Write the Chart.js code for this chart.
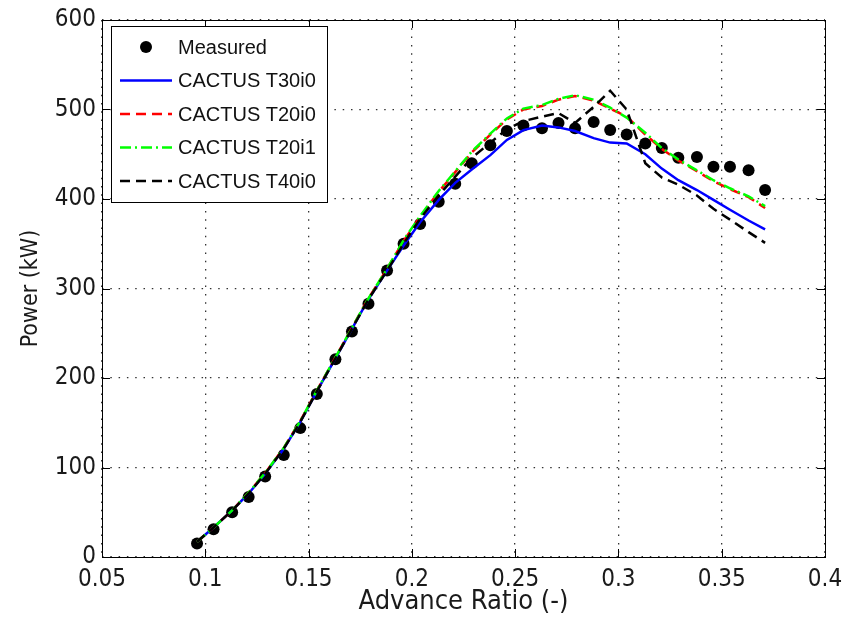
<!DOCTYPE html>
<html>
<head>
<meta charset="utf-8">
<script src="https://cdn.jsdelivr.net/npm/chart.js@4.4.1/dist/chart.umd.min.js"></script>
<style>
  html, body { margin: 0; padding: 0; background: #fff; }
  #wrap { width: 854px; height: 629px; }
</style>
</head>
<body>
<div id="wrap"><canvas id="graph" width="854" height="629"></canvas></div>
<script>
// advance ratio of each measured point / each simulated point
const advanceRatio = [0.096, 0.104, 0.113, 0.121, 0.129, 0.138, 0.146, 0.154, 0.163, 0.171, 0.179, 0.188,
  0.196, 0.204, 0.213, 0.221, 0.229, 0.238, 0.246, 0.254, 0.263, 0.271, 0.279, 0.288,
  0.296, 0.304, 0.313, 0.321, 0.329, 0.338, 0.346, 0.354, 0.363, 0.371];

const measuredPower = [15, 31, 50, 67, 90, 114, 144, 182, 221, 252, 283, 320,
  350, 372, 397, 417, 440, 460, 476, 482, 479, 485, 479, 486,
  477, 472, 462, 457, 446, 447, 436, 436, 432, 410];

const cactusT30i0 = [17, 33, 52, 71, 93, 121, 151, 185, 222, 255, 288, 320,
  348, 374, 399, 418, 433, 449, 466, 477, 482, 480, 476, 468,
  463, 462, 450, 434, 421, 410, 399, 388, 376, 366];

const cactusT20i0 = [17, 33, 52, 72, 94, 122, 152, 186, 223, 256, 289, 322,
  353, 380, 408, 430, 452, 472, 489, 500, 504, 511, 515, 510,
  501, 492, 472, 456, 443, 431, 420, 411, 402, 390];

const cactusT20i1 = [17, 33, 52, 72, 94, 122, 152, 186, 223, 256, 289, 322,
  354, 381, 409, 431, 453, 473, 490, 501, 505, 512, 516, 511,
  502, 491, 474, 457, 444, 432, 421, 412, 403, 392];

const cactusT40i0 = [17, 33, 52, 71, 93, 121, 151, 185, 222, 255, 288, 320,
  350, 378, 404, 425, 446, 463, 478, 487, 492, 496, 485, 503,
  521, 500, 440, 424, 416, 404, 389, 377, 363, 351];

const xTicks = [0.05, 0.1, 0.15, 0.2, 0.25, 0.3, 0.35, 0.4];
const xTickLabels = ['0.05', '0.1', '0.15', '0.2', '0.25', '0.3', '0.35', '0.4'];
const yTicks = [0, 100, 200, 300, 400, 500, 600];

const toPoints = ys => ys.map((v, i) => ({ x: advanceRatio[i], y: v }));

const narrow = "'Liberation Sans Narrow', 'DejaVu Sans Condensed', 'Liberation Sans', Arial, sans-serif";
const tickFont = { family: narrow, size: 24 };

// box round the plot, with MATLAB style inward ticks
const framePlugin = {
  id: 'frame',
  afterDatasetsDraw(chart) {
    const { ctx, chartArea: a, scales: { x, y } } = chart;
    ctx.save();
    ctx.strokeStyle = '#000';
    ctx.lineWidth = 1;
    ctx.setLineDash([]);
    ctx.beginPath();
    x.ticks.forEach(t => {
      const px = Math.round(x.getPixelForValue(t.value)) + 0.5;
      ctx.moveTo(px, a.bottom); ctx.lineTo(px, a.bottom - 8);
      ctx.moveTo(px, a.top); ctx.lineTo(px, a.top + 8);
    });
    y.ticks.forEach(t => {
      const py = Math.round(y.getPixelForValue(t.value)) + 0.5;
      ctx.moveTo(a.left, py); ctx.lineTo(a.left + 8, py);
      ctx.moveTo(a.right, py); ctx.lineTo(a.right - 8, py);
    });
    ctx.stroke();
    ctx.strokeRect(Math.round(a.left) + 0.5, Math.round(a.top) + 0.5,
      Math.round(a.right - a.left), Math.round(a.bottom - a.top));
    ctx.restore();
  }
};

// legend box inside the axes, top left
const legendPlugin = {
  id: 'boxLegend',
  afterDraw(chart) {
    const { ctx, chartArea: a } = chart;
    const bx = a.left + 9, by = a.top + 6, bw = 216, bh = 176;
    ctx.save();
    ctx.fillStyle = '#fff';
    ctx.fillRect(bx, by, bw, bh);
    ctx.strokeStyle = '#000';
    ctx.lineWidth = 1;
    ctx.strokeRect(bx + 0.5, by + 0.5, bw, bh);
    ctx.font = "20px 'Liberation Sans', Arial, sans-serif";
    ctx.textBaseline = 'middle';
    chart.data.datasets.forEach((ds, i) => {
      const cy = by + 21 + i * 33.5;
      if (ds.showLine === false) {
        ctx.fillStyle = ds.backgroundColor;
        ctx.beginPath();
        ctx.arc(bx + 35, cy, 6, 0, Math.PI * 2);
        ctx.fill();
      } else {
        ctx.strokeStyle = ds.borderColor;
        ctx.lineWidth = ds.borderWidth;
        ctx.setLineDash(ds.borderDash || []);
        ctx.beginPath();
        ctx.moveTo(bx + 9, cy);
        ctx.lineTo(bx + 61, cy);
        ctx.stroke();
        ctx.setLineDash([]);
      }
      ctx.fillStyle = '#111';
      ctx.fillText(ds.label, bx + 67, cy + 1);
    });
    ctx.restore();
  }
};

const graph = document.getElementById('graph').getContext('2d');
new Chart(graph, {
  type: 'scatter',
  data: {
    datasets: [
      {
        label: 'Measured',
        data: toPoints(measuredPower),
        showLine: false,
        pointRadius: 6,
        pointBackgroundColor: '#000',
        backgroundColor: '#000',
        pointBorderWidth: 0,
        order: 5
      },
      {
        label: 'CACTUS T30i0',
        data: toPoints(cactusT30i0),
        showLine: true,
        borderColor: '#0000ff',
        borderWidth: 2.5,
        pointRadius: 0,
        order: 4
      },
      {
        label: 'CACTUS T20i0',
        data: toPoints(cactusT20i0),
        showLine: true,
        borderColor: '#ff0000',
        borderWidth: 2.5,
        borderDash: [10, 6],
        pointRadius: 0,
        order: 3
      },
      {
        label: 'CACTUS T20i1',
        data: toPoints(cactusT20i1),
        showLine: true,
        borderColor: '#00ff00',
        borderWidth: 2.5,
        borderDash: [11, 4, 2, 4],
        pointRadius: 0,
        order: 2
      },
      {
        label: 'CACTUS T40i0',
        data: toPoints(cactusT40i0),
        showLine: true,
        borderColor: '#000000',
        borderWidth: 2.5,
        borderDash: [10, 6],
        pointRadius: 0,
        order: 1
      }
    ]
  },
  options: {
    responsive: false,
    devicePixelRatio: 1,
    animation: false,
    layout: { padding: { left: 0, top: 20, right: 29, bottom: 0 } },
    plugins: { legend: { display: false }, tooltip: { enabled: false } },
    scales: {
      x: {
        type: 'linear',
        min: 0.05,
        max: 0.4,
        afterBuildTicks: s => { s.ticks = xTicks.map(v => ({ value: v })); },
        afterFit: s => { s.height = 72; s.paddingLeft = 0; s.paddingRight = 0; },
        ticks: {
          color: '#1a1a1a',
          font: tickFont,
          padding: 8,
          maxRotation: 0,
          callback: (v, i) => xTickLabels[i]
        },
        grid: { color: '#333', lineWidth: 1.3, drawTicks: false },
        border: { display: false, dash: [1.5, 6.8] },
        title: { display: true, text: 'Advance Ratio (-)', color: '#1a1a1a', font: { family: narrow, size: 27 }, padding: { top: 0, bottom: 11 } }
      },
      y: {
        type: 'linear',
        min: 0,
        max: 600,
        afterBuildTicks: s => { s.ticks = yTicks.map(v => ({ value: v })); },
        afterFit: s => { s.width = 102; s.paddingTop = 0; s.paddingBottom = 0; },
        ticks: {
          color: '#1a1a1a',
          font: tickFont,
          padding: 6,
          callback: v => String(v)
        },
        grid: { color: '#333', lineWidth: 1.3, drawTicks: false },
        border: { display: false, dash: [1.5, 6.8] },
        title: { display: true, text: 'Power (kW)', color: '#1a1a1a', font: { family: narrow, size: 23 }, padding: { top: 17, bottom: 0 } }
      }
    }
  },
  plugins: [framePlugin, legendPlugin]
});
</script>
</body>
</html>
